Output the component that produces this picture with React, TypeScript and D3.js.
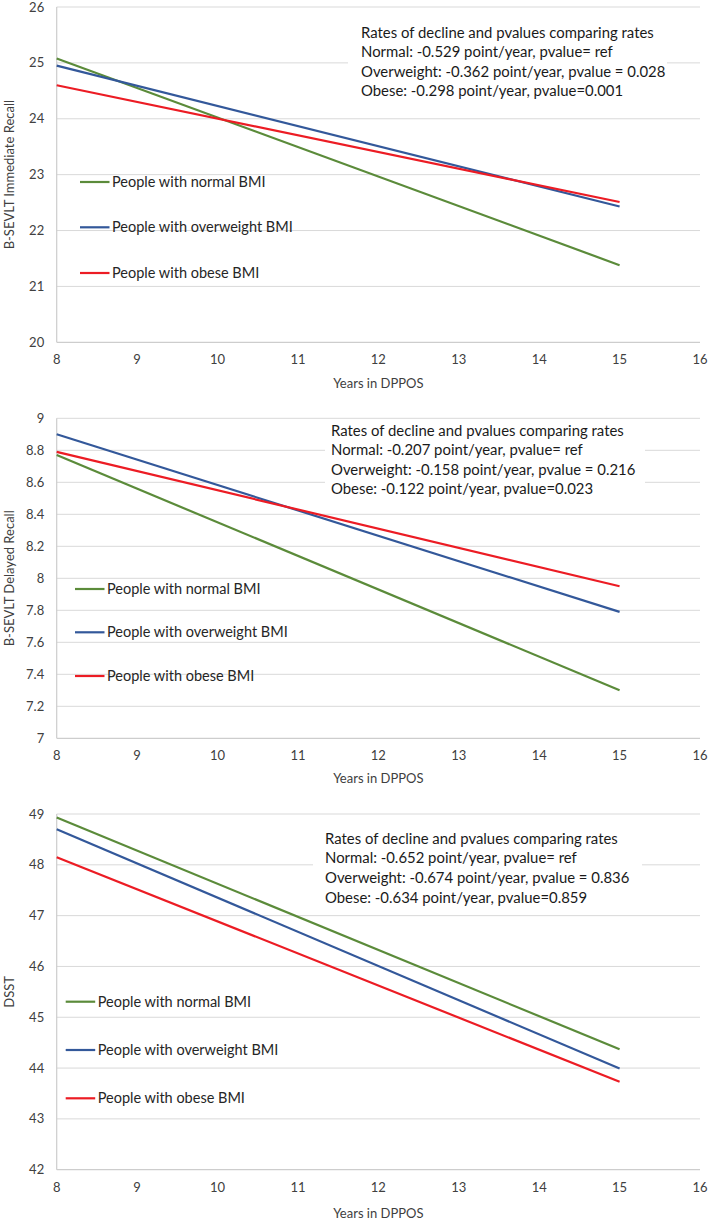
import { useEffect, useRef } from "react";
import * as d3 from "d3";

const years = [8, 15];
const xTicks = [8, 9, 10, 11, 12, 13, 14, 15, 16];
const xLabel = "Years in DPPOS";

const groupNames = [
  "People with normal BMI",
  "People with overweight BMI",
  "People with obese BMI",
];
const groupColors = ["#5B8B3A", "#33589A", "#EC1C24"];

// immediate recall
const immediateTicks = [20, 21, 22, 23, 24, 25, 26];
const immediateNormal = [25.08, 21.38];
const immediateOverweight = [24.95, 22.43];
const immediateObese = [24.6, 22.51];
const immediateNotes = [
  "Rates of decline and pvalues comparing rates",
  "Normal: -0.529 point/year, pvalue= ref",
  "Overweight: -0.362 point/year, pvalue = 0.028",
  "Obese: -0.298 point/year, pvalue=0.001",
];

// delayed recall
const delayedTicks = [7, 7.2, 7.4, 7.6, 7.8, 8, 8.2, 8.4, 8.6, 8.8, 9];
const delayedNormal = [8.77, 7.3];
const delayedOverweight = [8.9, 7.79];
const delayedObese = [8.79, 7.95];
const delayedNotes = [
  "Rates of decline and pvalues comparing rates",
  "Normal: -0.207 point/year, pvalue= ref",
  "Overweight: -0.158 point/year, pvalue = 0.216",
  "Obese: -0.122 point/year, pvalue=0.023",
];

// DSST
const dsstTicks = [42, 43, 44, 45, 46, 47, 48, 49];
const dsstNormal = [48.93, 44.37];
const dsstOverweight = [48.7, 43.99];
const dsstObese = [48.15, 43.73];
const dsstNotes = [
  "Rates of decline and pvalues comparing rates",
  "Normal: -0.652 point/year, pvalue= ref",
  "Overweight: -0.674 point/year, pvalue = 0.836",
  "Obese: -0.634 point/year, pvalue=0.859",
];

const panels = [
  {
    title: "B-SEVLT Immediate Recall",
    ticks: immediateTicks,
    series: [immediateNormal, immediateOverweight, immediateObese],
    notes: immediateNotes,
    top: 7,
    bottom: 342.3,
    titleGap: 41,
    legend: { x: 80, y: [182, 227.3, 273] },
    box: { x: 348, y: 16, w: 319, h: 88, tx: 361, ty: 32.7, dy: 19.3 },
  },
  {
    title: "B-SEVLT Delayed Recall",
    ticks: delayedTicks,
    series: [delayedNormal, delayedOverweight, delayedObese],
    notes: delayedNotes,
    top: 418.3,
    bottom: 738.3,
    titleGap: 40,
    legend: { x: 75, y: [589, 632.3, 676] },
    box: { x: 325, y: 421, w: 320, h: 79, tx: 331, ty: 430.7, dy: 19.5 },
  },
  {
    title: "DSST",
    ticks: dsstTicks,
    series: [dsstNormal, dsstOverweight, dsstObese],
    notes: dsstNotes,
    top: 814,
    bottom: 1169.7,
    titleGap: 44,
    legend: { x: 65.7, y: [1001.7, 1050, 1098.3] },
    box: { x: 313, y: 824, w: 329, h: 82, tx: 325, ty: 838.3, dy: 19.7 },
  },
];

const width = 709;
const height = 1223;
const left = 56.7;
const right = 700;
const font = "Lato, 'Open Sans', sans-serif";

const App = () => {
  const svgRef = useRef<SVGSVGElement | null>(null);

  useEffect(() => {
    document.body.style.margin = "0";
    const svg = d3.select(svgRef.current);
    svg.selectAll("*").remove();

    const xScale = d3
      .scaleLinear()
      .domain([xTicks[0], xTicks[xTicks.length - 1]])
      .range([left, right]);

    panels.forEach((p) => {
      const g = svg.append("g");
      const yScale = d3
        .scaleLinear()
        .domain([p.ticks[0], p.ticks[p.ticks.length - 1]])
        .range([p.bottom, p.top]);

      // gridlines
      g.selectAll("line.grid")
        .data(p.ticks.slice(1))
        .join("line")
        .attr("class", "grid")
        .attr("x1", left)
        .attr("x2", right)
        .attr("y1", (d) => yScale(d))
        .attr("y2", (d) => yScale(d))
        .attr("stroke", "#D9D9D9")
        .attr("stroke-width", 1);

      // axis lines
      g.append("line")
        .attr("x1", left)
        .attr("x2", right)
        .attr("y1", p.bottom)
        .attr("y2", p.bottom)
        .attr("stroke", "#CDCDCD")
        .attr("stroke-width", 1.2);
      g.append("line")
        .attr("x1", left)
        .attr("x2", left)
        .attr("y1", p.top)
        .attr("y2", p.bottom)
        .attr("stroke", "#CDCDCD")
        .attr("stroke-width", 1.2);

      // y tick labels
      g.selectAll("text.ytick")
        .data(p.ticks)
        .join("text")
        .attr("class", "ytick")
        .attr("x", left - 12.5)
        .attr("y", (d) => yScale(d))
        .attr("dy", "0.35em")
        .attr("text-anchor", "end")
        .attr("font-family", font)
        .attr("font-size", 13)
        .attr("fill", "#404040")
        .text((d) => String(d));

      // x tick labels
      g.selectAll("text.xtick")
        .data(xTicks)
        .join("text")
        .attr("class", "xtick")
        .attr("x", (d) => xScale(d))
        .attr("y", p.bottom + 17.5)
        .attr("dy", "0.35em")
        .attr("text-anchor", "middle")
        .attr("font-family", font)
        .attr("font-size", 13)
        .attr("fill", "#404040")
        .text((d) => String(d));

      // axis titles
      g.append("text")
        .attr("x", (left + right) / 2)
        .attr("y", p.bottom + p.titleGap)
        .attr("dy", "0.35em")
        .attr("text-anchor", "middle")
        .attr("font-family", font)
        .attr("font-size", 13)
        .attr("fill", "#404040")
        .text(xLabel);
      g.append("text")
        .attr("transform", `translate(9,${(p.top + p.bottom) / 2}) rotate(-90)`)
        .attr("dy", "0.35em")
        .attr("text-anchor", "middle")
        .attr("font-family", font)
        .attr("font-size", 13)
        .attr("fill", "#404040")
        .text(p.title);

      // note box with the rates
      g.append("rect")
        .attr("x", p.box.x)
        .attr("y", p.box.y)
        .attr("width", p.box.w)
        .attr("height", p.box.h)
        .attr("fill", "#fff");
      g.selectAll("text.note")
        .data(p.notes)
        .join("text")
        .attr("class", "note")
        .attr("x", p.box.tx)
        .attr("y", (_, i) => p.box.ty + i * p.box.dy)
        .attr("dy", "0.35em")
        .attr("font-family", font)
        .attr("font-size", 14.9)
        .attr("fill", "#1A1A1A")
        .text((d) => d);

      // regression lines
      const line = d3
        .line<number>()
        .x((_, i) => xScale(years[i]))
        .y((d) => yScale(d));

      g.selectAll("path.trend")
        .data(p.series)
        .join("path")
        .attr("class", "trend")
        .attr("fill", "none")
        .attr("stroke", (_, i) => groupColors[i])
        .attr("stroke-width", 2.2)
        .attr("d", (d) => line(d));

      // legend
      groupNames.forEach((name, i) => {
        g.append("line")
          .attr("x1", p.legend.x)
          .attr("x2", p.legend.x + 29.5)
          .attr("y1", p.legend.y[i])
          .attr("y2", p.legend.y[i])
          .attr("stroke", groupColors[i])
          .attr("stroke-width", 2.2);
        g.append("text")
          .attr("x", p.legend.x + 32)
          .attr("y", p.legend.y[i])
          .attr("dy", "0.35em")
          .attr("font-family", font)
          .attr("font-size", 14.5)
          .attr("fill", "#262626")
          .text(name);
      });
    });
  }, []);

  return (
    <svg
      ref={svgRef}
      width={width}
      height={height}
      viewBox={`0 0 ${width} ${height}`}
      style={{ display: "block", background: "#fff" }}
    />
  );
};

export default App;
